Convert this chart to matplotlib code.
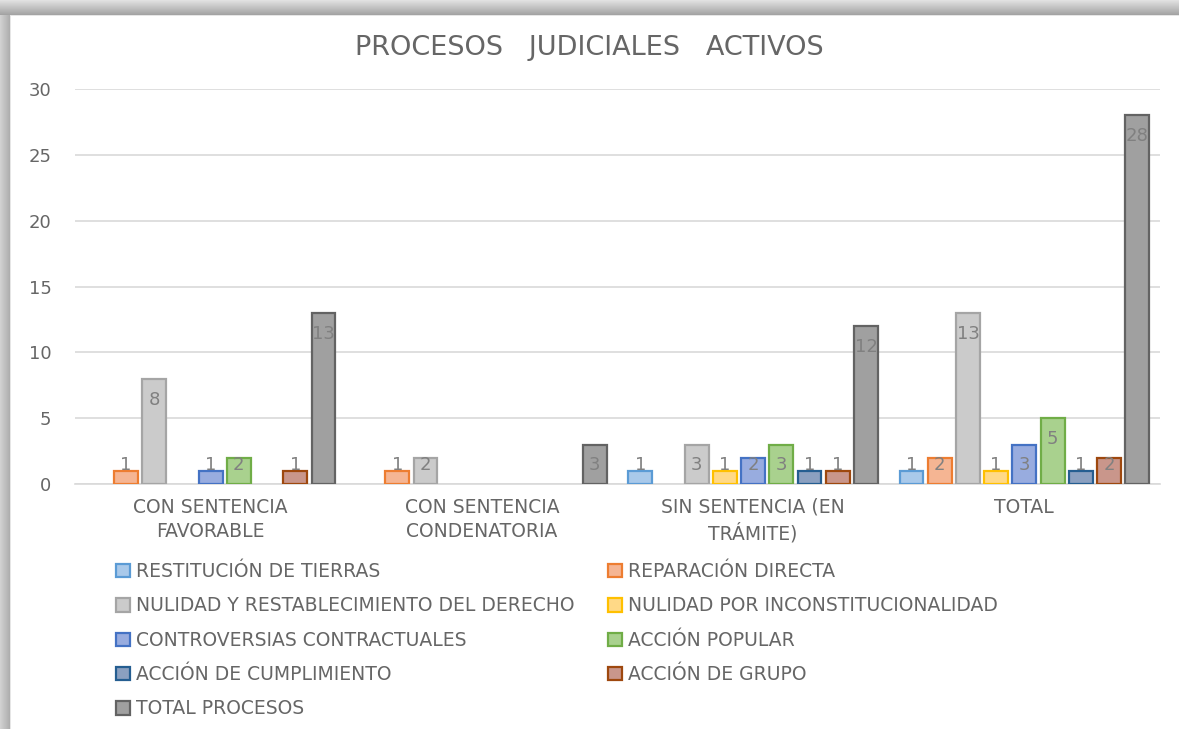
import numpy as np
import matplotlib.pyplot as plt
from matplotlib.patches import Patch

plt.rcParams['font.family'] = ['DejaVu Sans']

categories = ['CON SENTENCIA\nFAVORABLE', 'CON SENTENCIA\nCONDENATORIA',
              'SIN SENTENCIA (EN\nTRÁMITE)', 'TOTAL']

series_names = ['RESTITUCIÓN DE TIERRAS', 'REPARACIÓN DIRECTA',
                'NULIDAD Y RESTABLECIMIENTO DEL DERECHO', 'NULIDAD POR INCONSTITUCIONALIDAD',
                'CONTROVERSIAS CONTRACTUALES', 'ACCIÓN POPULAR',
                'ACCIÓN DE CUMPLIMIENTO', 'ACCIÓN DE GRUPO', 'TOTAL PROCESOS']

restitucion = [0, 0, 1, 1]
reparacion = [1, 1, 0, 2]
nulidad_restablecimiento = [8, 2, 3, 13]
nulidad_inconst = [0, 0, 1, 1]
controversias = [1, 0, 2, 3]
accion_popular = [2, 0, 3, 5]
accion_cumplimiento = [0, 0, 1, 1]
accion_grupo = [1, 0, 1, 2]
total_procesos = [13, 3, 12, 28]

series = [restitucion, reparacion, nulidad_restablecimiento, nulidad_inconst,
          controversias, accion_popular, accion_cumplimiento, accion_grupo, total_procesos]

fills = ['#a9c9ea', '#f5b593', '#cbcbcb', '#ffd987', '#98acdf', '#a9d18e', '#8ba0c0', '#c9968b', '#a0a0a0']
edges = ['#5b9bd5', '#ed7d31', '#a5a5a5', '#ffc000', '#4472c4', '#70ad47', '#255e91', '#9e480e', '#636363']

text_col = '#666666'

fig = plt.figure(figsize=(11.79, 7.29), dpi=100)

# shadow frame around the chart area
bg = fig.add_axes([0, 0, 1, 1], zorder=-10)
H, W = 729, 1179
img = np.ones((H, W))
top = np.linspace(0.88, 0.64, 15)
for r in range(15):
    img[r, :] = top[r]
left = np.linspace(0.82, 0.68, 10)
for c in range(10):
    img[15:, c] = np.minimum(img[15:, c], left[c])
img[15, 10:] = 0.9
img[15:, 10] = 0.9
bg.imshow(img, cmap='gray', vmin=0, vmax=1, aspect='auto', extent=[0, W, H, 0])
bg.axis('off')

ax = fig.add_axes([75 / W, 1 - 484 / H, (1160 - 75) / W, (484 - 89) / H])
ax.set_facecolor('none')

x = np.arange(len(categories))
n = len(series)
step = 0.104
width = 0.088
for i, vals in enumerate(series):
    pos = x + (i - (n - 1) / 2) * step
    vals = np.array(vals)
    mask = vals > 0
    ax.bar(pos[mask], vals[mask], width=width, color=fills[i], edgecolor=edges[i],
           linewidth=1.6, zorder=3)
    for px, v in zip(pos[mask], vals[mask]):
        ax.text(px, max(v - 1.6, 1.45), str(v), ha='center', va='center',
                fontsize=13, color='#808080', zorder=4)

ax.set_xlim(-0.5, 3.5)
ax.set_ylim(0, 30)
ax.set_yticks(range(0, 31, 5))
ax.grid(axis='y', color='#d9d9d9', linewidth=1.2, zorder=0)
for s in ['top', 'right', 'left']:
    ax.spines[s].set_visible(False)
ax.spines['bottom'].set_color('#d9d9d9')
ax.spines['bottom'].set_linewidth(1.2)
ax.tick_params(axis='both', length=0, labelsize=13, labelcolor=text_col)
ax.tick_params(axis='y', pad=17)
ax.tick_params(axis='x', pad=10, labelsize=13.5)
ax.set_xticks(x)
ax.set_xticklabels(categories, linespacing=1.35)

fig.text(0.5, 1 - 48 / H, 'PROCESOS   JUDICIALES   ACTIVOS', ha='center', va='center',
         fontsize=19.5, color=text_col)

handles = [Patch(facecolor=fills[i], edgecolor=edges[i], linewidth=1.6) for i in range(n)]
order = [0, 2, 4, 6, 8, 1, 3, 5, 7]
leg = fig.legend([handles[i] for i in order], [series_names[i] for i in order],
                 ncol=2, loc='upper left', bbox_to_anchor=(116 / W, 1 - 562 / H),
                 frameon=False, fontsize=13.5, labelcolor=text_col,
                 handlelength=0.72, handleheight=0.72, handletextpad=0.35,
                 columnspacing=1.8, labelspacing=0.82, borderpad=0, borderaxespad=0)

fig.savefig('out.png', dpi=100)
